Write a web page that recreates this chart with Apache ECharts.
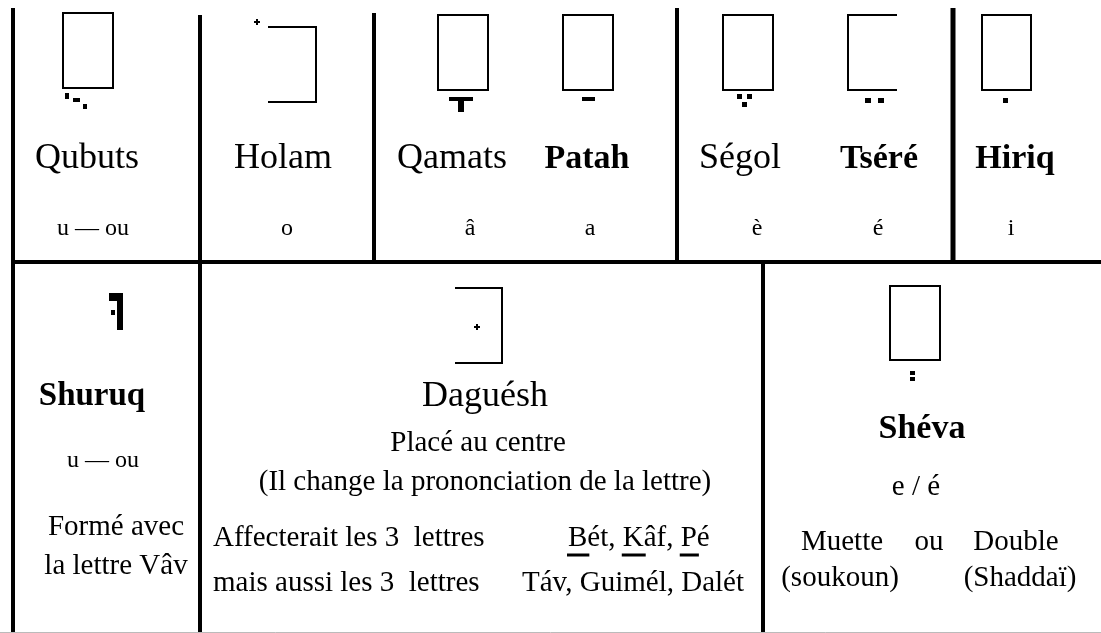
<!DOCTYPE html>
<html><head><meta charset="utf-8">
<script src="https://cdn.jsdelivr.net/npm/echarts@6/dist/echarts.min.js"></script>
<style>html,body{margin:0;padding:0;background:#fff}#c{width:1101px;height:633px}</style>
</head><body><div id="c"></div>
<script>
// ---- content (text data) ----
const topNames = ['Qubuts', 'Holam', 'Qamats', 'Patah', 'Ségol', 'Tséré', 'Hiriq'];
const topBold = [false, false, false, true, false, true, true];
const topSounds = ['u — ou', 'o', 'â', 'a', 'è', 'é', 'i'];
const shuruqName = 'Shuruq';
const shuruqSound = 'u — ou';
const shuruqNote = ['Formé avec', 'la lettre Vâv'];
const dageshName = 'Daguésh';
const dageshNote = ['Placé au centre', '(Il change la prononciation de la lettre)'];
const dageshAffect = ['Affecterait les 3  lettres', 'mais aussi les 3  lettres'];
const dageshLetters = ['Bét, Kâf, Pé', 'Táv, Guimél, Dalét'];
const underlined = ['B', 'K', 'P'];
const shevaName = 'Shéva';
const shevaSound = 'e / é';
const shevaKinds = ['Muette', 'ou', 'Double'];
const shevaKindsSub = ['(soukoun)', '(Shaddaï)'];

// ---- layout ----
const FONT = '"Liberation Serif", "Times New Roman", serif';
const topNameX = [87, 283, 452, 587, 740, 879, 1015];
const topSoundX = [93, 287, 470, 590, 757, 878, 1011];
const els = [];
function line(x1, y1, x2, y2, w, c) {
  els.push({ type: 'line', shape: { x1, y1, x2, y2 }, style: { stroke: c || '#000', lineWidth: w } });
}
function txt(t, x, y, size, bold, align) {
  els.push({ type: 'text', style: { text: t, x, y, fill: '#000',
    font: (bold ? 'bold ' : '') + size + 'px ' + FONT,
    textAlign: align || 'center', textVerticalAlign: 'middle' } });
}
function box(x, y, w, h) {
  els.push({ type: 'rect', shape: { x, y, width: w, height: h }, style: { fill: 'none', stroke: '#000', lineWidth: 2 } });
}
function poly(pts) {
  els.push({ type: 'polyline', shape: { points: pts }, style: { fill: 'none', stroke: '#000', lineWidth: 2 } });
}
function dot(x, y, w, h) {
  els.push({ type: 'rect', shape: { x, y, width: w, height: h }, style: { fill: '#000' } });
}
function plus(x, y) { dot(x - 3, y - 1, 6, 2); dot(x - 1, y - 3, 2, 6); }

// grid lines
line(13, 8, 13, 632, 4);
line(200, 15, 200, 632, 4);
line(374, 13, 374, 262, 4);
line(677, 8, 677, 262, 4);
line(953, 8, 953, 262, 5);
line(11, 262, 1101, 262, 4);
line(763, 262, 763, 632, 4);
line(0, 632.5, 1101, 632.5, 1, '#bbb');

// letters (top row)
box(63, 13, 50, 75);             // Qubuts
dot(65, 93, 4, 6); dot(73, 98, 7, 4); dot(83, 104, 4, 5);
poly([[268, 27], [316, 27], [316, 102], [268, 102]]); // Holam
plus(257, 22);
box(438, 15, 50, 75);            // Qamats
dot(449, 97, 24, 4); dot(458, 100, 6, 12);
box(563, 15, 50, 75);            // Patah
dot(582, 97, 13, 4);
box(723, 15, 50, 75);            // Ségol
dot(737, 94, 5, 5); dot(747, 94, 5, 5); dot(742, 102, 5, 5);
poly([[897, 15], [848, 15], [848, 90], [897, 90]]); // Tséré
dot(865, 98, 6, 5); dot(878, 98, 6, 5);
box(982, 15, 49, 75);            // Hiriq
dot(1003, 98, 5, 5);

topNames.forEach((n, i) => txt(n, topNameX[i], 159, topBold[i] ? 34 : 36, topBold[i]));
topSounds.forEach((s, i) => txt(s, topSoundX[i], 229, 24, false));

// Shuruq cell
dot(109, 293, 12, 8); dot(117, 293, 6, 37); dot(111, 310, 4, 5);
txt(shuruqName, 92, 396, 33, true);
txt(shuruqSound, 103, 461, 24, false);
shuruqNote.forEach((s, i) => txt(s, 116, 527 + i * 39, 29, false));

// Dagesh cell
poly([[455, 288], [502, 288], [502, 363], [455, 363]]);
plus(477, 327);
txt(dageshName, 485, 397, 36, false);
txt(dageshNote[0], 478, 443, 29, false);
txt(dageshNote[1], 485, 482, 29, false);
dageshAffect.forEach((s, i) => txt(s, 213, 538 + i * 45, 29, false, 'left'));
const lettersX = [568, 522];
dageshLetters.forEach((s, i) => txt(s, lettersX[i], 538 + i * 45, 29, false, 'left'));
// underline initial letters of Bét, Kâf, Pé
const cv = document.createElement('canvas').getContext('2d');
cv.font = '29px ' + FONT;
underlined.forEach(ch => {
  const idx = dageshLetters[0].indexOf(ch);
  const x0 = lettersX[0] + cv.measureText(dageshLetters[0].slice(0, idx)).width;
  const w = cv.measureText(ch).width;
  line(x0 - 1, 555, x0 + w + 2, 555, 3);
});

// Shéva cell
box(890, 286, 50, 74);
dot(910, 371, 5, 4); dot(910, 377, 5, 4);
txt(shevaName, 922, 429, 34, true);
txt(shevaSound, 916, 487, 29, false);
const kindX = [842, 929, 1016];
shevaKinds.forEach((s, i) => txt(s, kindX[i], 542, 29, false));
const subX = [840, 1020];
shevaKindsSub.forEach((s, i) => txt(s, subX[i], 578, 29, false));

const chart = echarts.init(document.getElementById('c'), null, { renderer: 'canvas' });
chart.setOption({ backgroundColor: '#fff', animation: false, graphic: { elements: els } });
</script></body></html>
